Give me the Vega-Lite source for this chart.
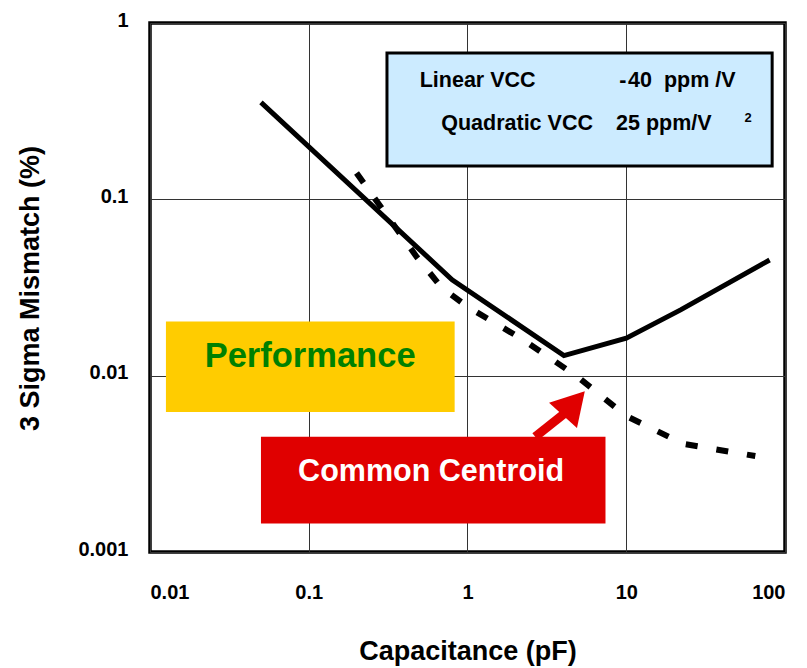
{
  "$schema": "https://vega.github.io/schema/vega-lite/v6.json",
  "width": 635,
  "height": 529,
  "autosize": {"type": "none"},
  "padding": {"left": 150, "top": 23, "right": 22, "bottom": 116},
  "background": "white",
  "config": {
    "font": "Liberation Sans, Arial, sans-serif",
    "view": {"stroke": "black", "strokeWidth": 3.5},
    "axis": {
      "grid": true,
      "gridColor": "#333333",
      "gridWidth": 1,
      "gridOpacity": 1,
      "domain": false,
      "ticks": false,
      "labelFontSize": 20,
      "labelFontWeight": "bold",
      "labelColor": "black",
      "titleFontSize": 27,
      "titleFontWeight": "bold",
      "titleColor": "black"
    }
  },
  "datasets": {
    "curves": [
      {"layout": "Performance", "cap": 0.05, "mismatch": 0.355},
      {"layout": "Performance", "cap": 0.8, "mismatch": 0.035},
      {"layout": "Performance", "cap": 4.05, "mismatch": 0.013},
      {"layout": "Performance", "cap": 10, "mismatch": 0.0163},
      {"layout": "Performance", "cap": 22, "mismatch": 0.0236},
      {"layout": "Performance", "cap": 80, "mismatch": 0.0453},
      {"layout": "Common Centroid", "cap": 0.2, "mismatch": 0.141},
      {"layout": "Common Centroid", "cap": 0.48, "mismatch": 0.047},
      {"layout": "Common Centroid", "cap": 0.69, "mismatch": 0.0315},
      {"layout": "Common Centroid", "cap": 1.0, "mismatch": 0.0246},
      {"layout": "Common Centroid", "cap": 2.24, "mismatch": 0.016},
      {"layout": "Common Centroid", "cap": 4.9, "mismatch": 0.0099},
      {"layout": "Common Centroid", "cap": 10, "mismatch": 0.0059},
      {"layout": "Common Centroid", "cap": 23, "mismatch": 0.0041},
      {"layout": "Common Centroid", "cap": 65, "mismatch": 0.0035}
    ],
    "boxes": [
      {"box": "vcc", "c1": 0.311, "c2": 83, "m1": 0.676, "m2": 0.1546},
      {"box": "performance", "c1": 0.0126, "c2": 0.83, "m1": 0.0203, "m2": 0.00623},
      {"box": "centroid", "c1": 0.05, "c2": 7.4, "m1": 0.0045, "m2": 0.00145}
    ],
    "vccText": [
      {"text": "Linear VCC", "cap": 0.5, "mismatch": 0.47},
      {"text": "-\u200a40\u00a0\u00a0ppm\u00a0/V", "cap": 9.02, "mismatch": 0.47},
      {"text": "Quadratic VCC", "cap": 0.683, "mismatch": 0.268},
      {"text": "25\u00a0ppm/V", "cap": 8.63, "mismatch": 0.268}
    ],
    "arrow": [
      {"c1": 2.67, "m1": 0.0045, "c2": 4.12, "m2": 0.00615}
    ],
    "arrowHead": [
      {"cap": 4.68, "mismatch": 0.00697}
    ]
  },
  "encoding": {
    "x": {
      "field": "cap",
      "type": "quantitative",
      "scale": {"type": "log", "domain": [0.01, 100], "nice": false},
      "axis": {
        "title": "Capacitance (pF)",
        "values": [0.01, 0.1, 1, 10, 100],
        "format": "~g",
        "labelPadding": 30,
        "labelBaseline": "top",
        "titleY": 107,
        "titleBaseline": "alphabetic"
      }
    },
    "y": {
      "field": "mismatch",
      "type": "quantitative",
      "scale": {"type": "log", "domain": [0.001, 1], "nice": false},
      "axis": {
        "title": "3 Sigma Mismatch (%)",
        "values": [0.001, 0.01, 0.1, 1],
        "format": "~g",
        "labelPadding": 22,
        "labelBaseline": "middle",
        "labelOffset": -3,
        "titleAngle": -90,
        "titleX": -120,
        "titleY": 265,
        "titleAlign": "center",
        "titleBaseline": "middle"
      }
    }
  },
  "layer": [
    {
      "data": {"name": "boxes"},
      "transform": [{"filter": "datum.box === 'vcc'"}],
      "mark": {"type": "rect", "fill": "#CCEBFF", "stroke": "black", "strokeWidth": 3},
      "encoding": {
        "x": {"field": "c1", "type": "quantitative"},
        "x2": {"field": "c2"},
        "y": {"field": "m1", "type": "quantitative"},
        "y2": {"field": "m2"}
      }
    },
    {
      "data": {"name": "vccText"},
      "mark": {"type": "text", "align": "left", "baseline": "middle", "fontSize": 21.5, "fontWeight": "bold", "color": "black"},
      "encoding": {"text": {"field": "text"}}
    },
    {
      "data": {"values": [{"text": "2", "cap": 55.5, "mismatch": 0.29}]},
      "mark": {"type": "text", "align": "left", "baseline": "middle", "fontSize": 13, "fontWeight": "bold", "color": "black"},
      "encoding": {"text": {"field": "text"}}
    },
    {
      "data": {"name": "curves"},
      "transform": [{"filter": "datum.layout === 'Performance'"}],
      "mark": {"type": "line", "color": "black", "strokeWidth": 5, "strokeJoin": "miter"},
      "encoding": {"order": {"field": "cap", "type": "quantitative"}}
    },
    {
      "data": {"name": "curves"},
      "transform": [{"filter": "datum.layout === 'Common Centroid'"}],
      "mark": {"type": "line", "color": "black", "strokeWidth": 6, "strokeDash": [12, 19]},
      "encoding": {"order": {"field": "cap", "type": "quantitative"}}
    },
    {
      "data": {"name": "boxes"},
      "transform": [{"filter": "datum.box === 'performance'"}],
      "mark": {"type": "rect", "fill": "#FFCC00"},
      "encoding": {
        "x": {"field": "c1", "type": "quantitative"},
        "x2": {"field": "c2"},
        "y": {"field": "m1", "type": "quantitative"},
        "y2": {"field": "m2"}
      }
    },
    {
      "data": {"values": [{"text": "Performance", "cap": 0.102, "mismatch": 0.0128}]},
      "mark": {"type": "text", "align": "center", "baseline": "middle", "fontSize": 34.5, "fontWeight": "bold", "color": "#008000"},
      "encoding": {"text": {"field": "text"}}
    },
    {
      "data": {"name": "arrow"},
      "mark": {"type": "rule", "color": "#E00000", "strokeWidth": 9},
      "encoding": {
        "x": {"field": "c1", "type": "quantitative"},
        "x2": {"field": "c2"},
        "y": {"field": "m1", "type": "quantitative"},
        "y2": {"field": "m2"}
      }
    },
    {
      "data": {"name": "arrowHead"},
      "mark": {"type": "point", "shape": "triangle-up", "filled": true, "color": "#E00000", "opacity": 1, "size": 1414, "angle": 42},
      "encoding": {}
    },
    {
      "data": {"name": "boxes"},
      "transform": [{"filter": "datum.box === 'centroid'"}],
      "mark": {"type": "rect", "fill": "#E00000"},
      "encoding": {
        "x": {"field": "c1", "type": "quantitative"},
        "x2": {"field": "c2"},
        "y": {"field": "m1", "type": "quantitative"},
        "y2": {"field": "m2"}
      }
    },
    {
      "data": {"values": [{"text": "Common Centroid", "cap": 0.59, "mismatch": 0.00285}]},
      "mark": {"type": "text", "align": "center", "baseline": "middle", "fontSize": 30.5, "fontWeight": "bold", "color": "white"},
      "encoding": {"text": {"field": "text"}}
    }
  ]
}
